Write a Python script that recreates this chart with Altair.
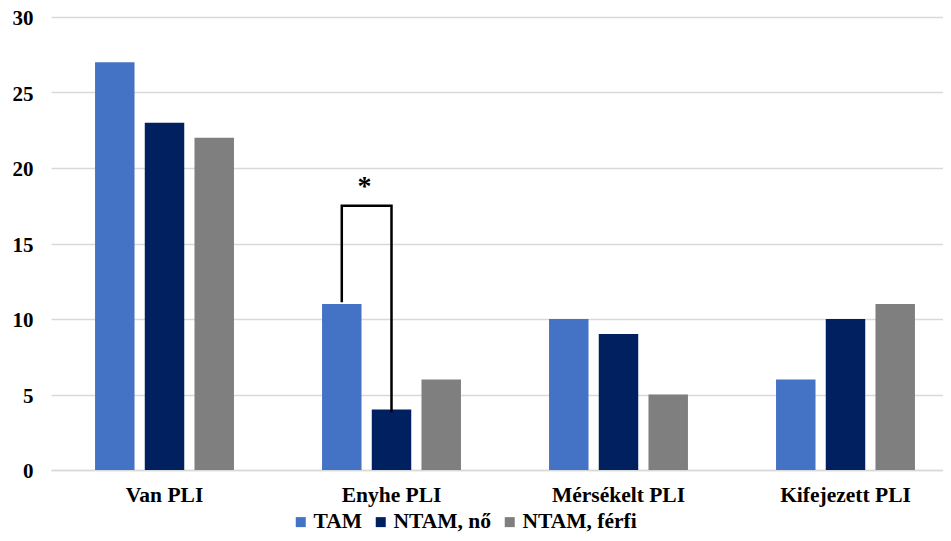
import altair as alt
import pandas as pd

categories = ["Van PLI", "Enyhe PLI", "Mérsékelt PLI", "Kifejezett PLI"]
series = ["TAM", "NTAM, nő", "NTAM, férfi"]
colors = ["#4472C4", "#002060", "#7F7F7F"]
values = {
    "TAM": [27, 11, 10, 6],
    "NTAM, nő": [23, 4, 9, 10],
    "NTAM, férfi": [22, 6, 5, 11],
}

# significance bracket (Enyhe PLI: TAM vs NTAM, nő)
br_cat = ["Enyhe PLI", "Enyhe PLI", "Enyhe PLI", "Enyhe PLI"]
br_ser = ["TAM", "TAM", "NTAM, nő", "NTAM, nő"]
br_val = [11.2, 17.5, 17.5, 3.9]
star_val = 18.75

rows = []
for s in series:
    for c, v in zip(categories, values[s]):
        rows.append({"cat": c, "series": s, "value": v})
df = pd.DataFrame(rows)

br = pd.DataFrame({"cat": br_cat, "series": br_ser, "value": br_val, "o": list(range(len(br_val)))})
star = pd.DataFrame({"cat": ["Enyhe PLI"], "series": ["NTAM, nő"], "value": [star_val], "t": ["*"]})

FONT = "Liberation Serif, Times New Roman, serif"
FS = 21.5

xscale = alt.Scale(domain=categories, paddingInner=0.388, paddingOuter=0.1588, align=0.611)
xoff = alt.Scale(domain=series, paddingInner=0.206, paddingOuter=0)
yscale = alt.Scale(domain=[0, 30])

bars = alt.Chart(df).mark_bar().encode(
    x=alt.X("cat:N", scale=xscale, sort=categories,
            axis=alt.Axis(title=None, labelAngle=0, ticks=False, domainColor="#D9D9D9",
                          domainWidth=1.5, labelFont=FONT, labelFontWeight="bold",
                          labelFontSize=FS, labelColor="#000000", labelPadding=14)),
    xOffset=alt.XOffset("series:N", scale=xoff, sort=series),
    y=alt.Y("value:Q", scale=yscale,
            axis=alt.Axis(title=None, values=[0, 5, 10, 15, 20, 25, 30], domain=False, ticks=False,
                          gridColor="#D9D9D9", gridWidth=1.5, labelFont=FONT,
                          labelFontWeight="bold", labelFontSize=21, labelColor="#000000",
                          labelPadding=18, labelOffset=1.5)),
    color=alt.Color("series:N", scale=alt.Scale(domain=series, range=colors), sort=series,
                    legend=alt.Legend(title=None, orient="none", legendX=239, legendY=494,
                                      direction="horizontal", symbolType="square",
                                      symbolSize=100, symbolStrokeWidth=0,
                                      labelFont=FONT, labelFontWeight="bold",
                                      labelFontSize=FS, labelColor="#000000",
                                      columnPadding=7, labelOffset=2)),
)

bracket = alt.Chart(br).mark_line(color="#000000", strokeWidth=2.5, strokeCap="square").encode(
    x=alt.X("cat:N", scale=xscale, sort=categories),
    xOffset=alt.XOffset("series:N", scale=xoff, sort=series),
    y=alt.Y("value:Q", scale=yscale),
    order="o:Q",
)

stars = alt.Chart(star).mark_text(font=FONT, fontWeight="bold", fontSize=28, color="#000000",
                                  dx=-27, baseline="middle").encode(
    x=alt.X("cat:N", scale=xscale, sort=categories),
    xOffset=alt.XOffset("series:N", scale=xoff, sort=series),
    y=alt.Y("value:Q", scale=yscale),
    text="t:N",
)

chart = alt.layer(bars, bracket, stars).properties(
    width=892, height=453,
    autosize=alt.AutoSizeParams(type="none"),
    padding={"left": 43, "top": 9, "right": 0, "bottom": 63},
).configure_view(stroke=None)

chart.save("out.html", embed_options={"renderer": "svg", "actions": False})
